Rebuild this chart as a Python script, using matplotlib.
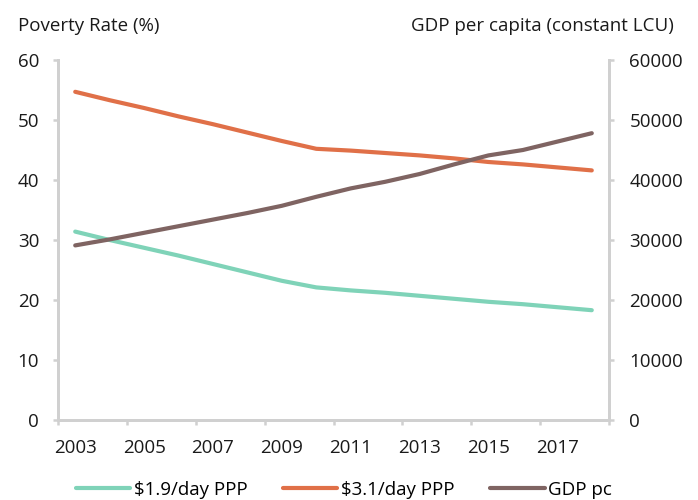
import numpy as np
import matplotlib.pyplot as plt
from matplotlib.ticker import FixedLocator, NullFormatter

plt.rcParams['font.family'] = ['Open Sans', 'DejaVu Sans']

years = list(range(2003, 2019))
pov_19 = [31.4, 30.0, 28.7, 27.4, 26.0, 24.6, 23.2, 22.1,
          21.6, 21.2, 20.7, 20.2, 19.7, 19.3, 18.8, 18.3]
pov_31 = [54.7, 53.3, 52.0, 50.6, 49.3, 47.9, 46.5, 45.2,
          44.9, 44.5, 44.1, 43.6, 43.0, 42.6, 42.1, 41.6]
gdp_pc = [29100, 30100, 31200, 32300, 33400, 34500, 35700, 37200,
          38600, 39700, 41000, 42600, 44100, 45000, 46400, 47800]

teal = '#7fd3b8'
orange = '#e07048'
brown = '#7f6462'
grey = '#d0d0d0'
txt = '#1a1a1a'
fs = 13.5

fig = plt.figure(figsize=(6.98, 5.0), dpi=100)
ax = fig.add_axes([58 / 698, 80 / 500, 551 / 698, 360 / 500])
ax2 = ax.twinx()

x = np.arange(len(years))
l1, = ax.plot(x, pov_19, color=teal, lw=3, solid_capstyle='round', label='$1.9/day PPP')
l2, = ax.plot(x, pov_31, color=orange, lw=3, solid_capstyle='round', label='$3.1/day PPP')
l3, = ax2.plot(x, gdp_pc, color=brown, lw=3, solid_capstyle='round', label='GDP pc')

ax.set_xlim(-0.5, len(years) - 0.5)
ax.set_ylim(0, 60)
ax2.set_ylim(0, 60000)
ax.set_yticks(range(0, 61, 10))
ax2.set_yticks(range(0, 60001, 10000))

# tick marks between every second category, labels centred on the category
ax.xaxis.set_major_locator(FixedLocator(np.arange(-0.5, len(years), 2)))
ax.xaxis.set_major_formatter(NullFormatter())
ax.xaxis.set_minor_locator(FixedLocator(x[::2]))
ax.set_xticklabels([str(y) for y in years[::2]], minor=True)
ax.tick_params(axis='x', which='major', length=3.6, width=1.8, color=grey, direction='out')
ax.tick_params(axis='x', which='minor', length=0, pad=14, labelsize=fs, labelcolor=txt)
ax.tick_params(axis='y', length=3.6, width=1.8, color=grey, labelsize=fs, labelcolor=txt, pad=10)
ax2.tick_params(axis='y', length=3.6, width=1.8, color=grey, labelsize=fs, labelcolor=txt, pad=11)

for a in (ax, ax2):
    for s in a.spines.values():
        s.set_color(grey)
        s.set_linewidth(2)
    a.spines['top'].set_visible(False)

fig.text(18 / 698, 1 - 26 / 500, 'Poverty Rate (%)', fontsize=fs, color=txt, va='center', ha='left')
fig.text(674 / 698, 1 - 26 / 500, 'GDP per capita (constant LCU)', fontsize=fs, color=txt,
         va='center', ha='right')

fig.legend(handles=[l1, l2, l3], loc='center', bbox_to_anchor=(344 / 698, 1 - 490 / 500), ncol=3,
           frameon=False, fontsize=fs, handlelength=2.9, columnspacing=1.9, handletextpad=0.2,
           borderpad=0, borderaxespad=0)

fig.savefig('out.png', dpi=100)
